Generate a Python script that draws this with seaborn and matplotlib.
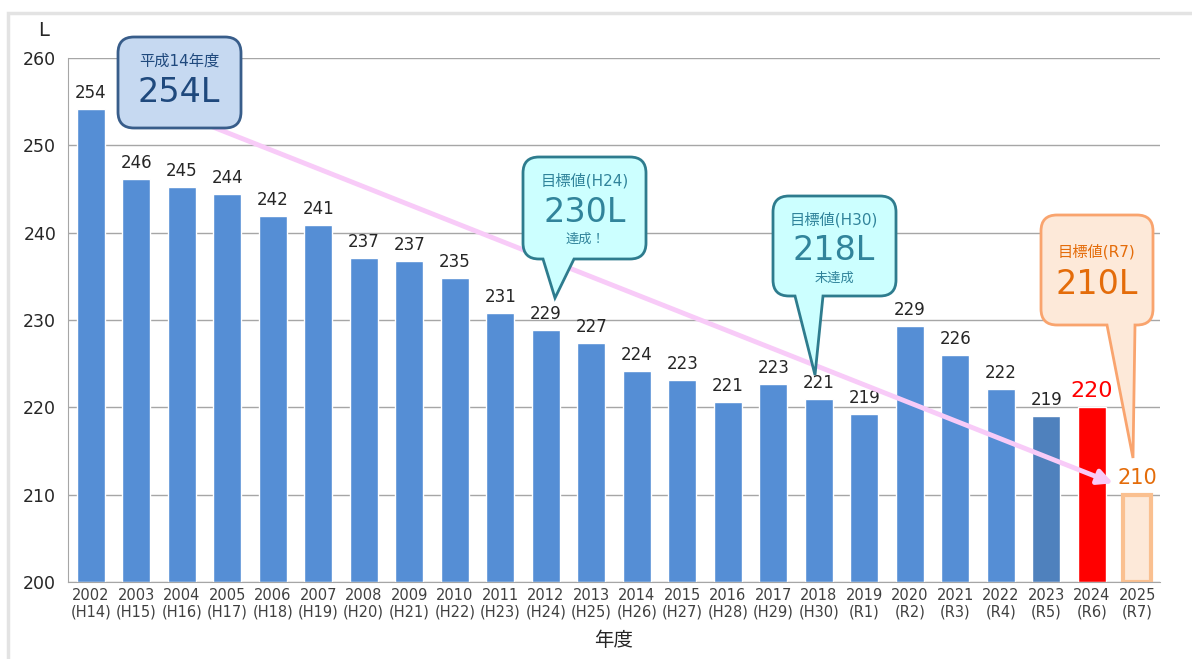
import matplotlib
matplotlib.use("Agg")
import matplotlib.pyplot as plt
from matplotlib.path import Path
from matplotlib.patches import PathPatch, Rectangle
import seaborn as sns

# data
years = ["2002", "2003", "2004", "2005", "2006", "2007", "2008", "2009", "2010", "2011", "2012", "2013",
         "2014", "2015", "2016", "2017", "2018", "2019", "2020", "2021", "2022", "2023", "2024", "2025"]
eras = ["H14", "H15", "H16", "H17", "H18", "H19", "H20", "H21", "H22", "H23", "H24", "H25",
        "H26", "H27", "H28", "H29", "H30", "R1", "R2", "R3", "R4", "R5", "R6", "R7"]
litres = [254.2, 246.1, 245.2, 244.4, 241.9, 240.9, 237.1, 236.8, 234.8, 230.8, 228.9, 227.4,
          224.2, 223.1, 220.6, 222.7, 221.0, 219.2, 229.3, 226.0, 222.1, 219.0, 220.0, 210.0]

W, H = 1192, 659
BLUE, DARK, RED = "#558ED5", "#4F81BD", "#FF0000"
PEACH, PEACH_EDGE, ORANGE = "#FDE9D9", "#FAC090", "#E46C0A"

sns.set_style("white")
plt.rcParams["font.family"] = ["DejaVu Sans", "Noto Sans CJK JP"]

labels = [f"{y}\n({e})" for y, e in zip(years, eras)]
colors = [BLUE] * 21 + [DARK, RED, PEACH]

fig = plt.figure(figsize=(W / 100, H / 100), dpi=100)
ax = fig.add_axes([68 / W, 1 - 582 / H, (1160 - 68) / W, (582 - 58) / H])

sns.barplot(x=labels, y=litres, hue=labels, palette=colors, legend=False,
            width=0.62, saturation=1, ax=ax, zorder=2)

ax.set_ylim(200, 260)
ax.set_xlim(-0.5, len(years) - 0.5)
ax.set_yticks(range(200, 261, 10))
ax.yaxis.grid(True, color="#A6A6A6", lw=1)
ax.set_axisbelow(True)
for s in ["top", "right"]:
    ax.spines[s].set_visible(False)
for s in ["left", "bottom"]:
    ax.spines[s].set_color("#A6A6A6")
ax.tick_params(axis="y", labelsize=12.5, colors="#A6A6A6", labelcolor="#262626", length=5)
ax.tick_params(axis="x", which="major", length=0, labelsize=10.5, labelcolor="#404040", pad=4)
ax.set_xticks([i + 0.5 for i in range(-1, len(years))], minor=True)
ax.tick_params(axis="x", which="minor", length=5, color="#A6A6A6")
ax.set_xlabel("年度", fontsize=14, color="#262626", labelpad=8)
ax.set_ylabel("")

# last bar: outlined target
last = ax.patches[len(years) - 1]
last.set_edgecolor(PEACH_EDGE)
last.set_linewidth(3)
for p in ax.patches[:len(years)]:
    p.set_y(200)
    p.set_height(p.get_height() - 200)

# value labels
for i, v in enumerate(litres):
    if i == 22:
        ax.text(i, v + 0.7, f"{v:.0f}", ha="center", va="bottom", fontsize=16, color=RED)
    elif i == 23:
        ax.text(i, v + 0.8, f"{v:.0f}", ha="center", va="bottom", fontsize=15, color=ORANGE)
    else:
        ax.text(i, v + 0.8, f"{v:.0f}", ha="center", va="bottom", fontsize=12, color="#262626")

fig.text(44 / W, 1 - 30 / H, "L", fontsize=14, ha="center", va="center", color="#262626")

# pink trend arrow
ax.annotate("", xy=(22.47, 211.3), xytext=(2.2, 253.1),
            arrowprops=dict(arrowstyle="-|>", color="#F8CBF8", lw=3.5, mutation_scale=22,
                            shrinkA=0, shrinkB=0), zorder=4)


def callout(l, t, r, b, face, edge, tail=None, rad=16):
    v = [(l + rad, t), (r - rad, t), (r, t), (r, t + rad), (r, b - rad), (r, b), (r - rad, b)]
    c = [Path.MOVETO, Path.LINETO, Path.CURVE3, Path.CURVE3, Path.LINETO, Path.CURVE3, Path.CURVE3]
    if tail:
        x0, x1, tx, ty = tail
        v += [(x1, b), (tx, ty), (x0, b)]
        c += [Path.LINETO] * 3
    v += [(l + rad, b), (l, b), (l, b - rad), (l, t + rad), (l, t), (l + rad, t), (l + rad, t)]
    c += [Path.LINETO, Path.CURVE3, Path.CURVE3, Path.LINETO, Path.CURVE3, Path.CURVE3, Path.CLOSEPOLY]
    v = [(x / W, 1 - y / H) for x, y in v]
    patch = PathPatch(Path(v, c), facecolor=face, edgecolor=edge, lw=2,
                      transform=fig.transFigure, zorder=6, clip_on=False)
    ax.add_patch(patch)


def ftext(x, y, s, size, color):
    fig.text(x / W, 1 - y / H, s, fontsize=size, color=color, ha="center", va="center", zorder=7)


callout(118, 37, 241, 128, "#C6D9F1", "#385D8A")
ftext(179, 61, "平成14年度", 11, "#1F497D")
ftext(179, 93, "254L", 24, "#1F497D")

TEAL = "#31849B"
callout(523, 157, 646, 259, "#CCFFFF", "#2E7C8E", tail=(543, 574, 555, 298))
ftext(585, 181, "目標値(H24)", 11, TEAL)
ftext(585, 212, "230L", 24, TEAL)
ftext(585, 239, "達成！", 9.5, TEAL)

callout(773, 196, 896, 296, "#CCFFFF", "#2E7C8E", tail=(795, 823, 815, 375))
ftext(834, 220, "目標値(H30)", 11, TEAL)
ftext(834, 251, "218L", 24, TEAL)
ftext(834, 278, "未達成", 9.5, TEAL)

callout(1041, 215, 1153, 325, PEACH, "#F9A46E", tail=(1107, 1135, 1133, 458))
ftext(1097, 252, "目標値(R7)", 11, ORANGE)
ftext(1097, 284, "210L", 24, ORANGE)

# outer frame
fig.add_artist(Rectangle((8 / W, -0.1), 1.2, 1 - 13 / H + 0.1, transform=fig.transFigure,
                         facecolor="none", edgecolor="#E3E3E3", lw=2.5))

fig.savefig("out.png", dpi=100)
